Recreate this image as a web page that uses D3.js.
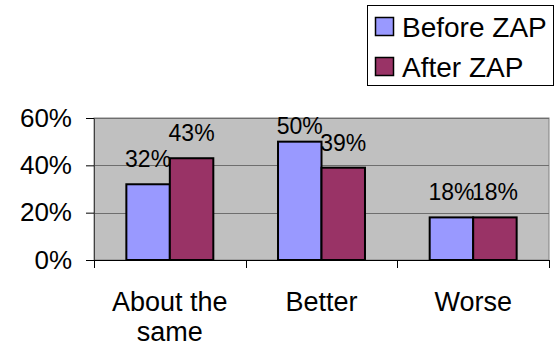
<!DOCTYPE html>
<html>
<head>
<meta charset="utf-8">
<script src="https://cdn.jsdelivr.net/npm/d3@7"></script>
<style>
  html, body { margin: 0; padding: 0; background: #ffffff; }
  svg { display: block; font-family: "Liberation Sans", Arial, sans-serif; }
</style>
</head>
<body>
<svg id="chart" width="557" height="347"></svg>
<script>
// ---- data ----
const categories = ["About the same", "Better", "Worse"];
const categoryLines = [["About the", "same"], ["Better"], ["Worse"]];
const seriesNames = ["Before ZAP", "After ZAP"];
const beforeValues = [0.32, 0.50, 0.18];
const afterValues = [0.43, 0.39, 0.18];
const yTicks = [0, 0.2, 0.4, 0.6];
const seriesColors = ["#9999ff", "#993366"];

const svg = d3.select("#chart");
const plot = { left: 94, right: 549, top: 118, bottom: 260 };

const x0 = d3.scaleBand().domain(categories).range([plot.left, plot.right]).padding(0);
const x1 = d3.scaleBand().domain(seriesNames).range([0, x0.bandwidth()]).paddingInner(0).paddingOuter(0.744);
const y = d3.scaleLinear().domain([0, 0.6]).range([plot.bottom, plot.top]);
const fmt = d3.format(".0%");

// plot area background
svg.append("rect")
  .attr("x", plot.left).attr("y", plot.top)
  .attr("width", plot.right - plot.left).attr("height", plot.bottom - plot.top)
  .attr("fill", "#c0c0c0").attr("stroke", "#808080").attr("stroke-width", 1);

// gridlines
svg.append("g").selectAll("line").data(yTicks.filter(t => t > 0)).join("line")
  .attr("x1", plot.left).attr("x2", plot.right)
  .attr("y1", d => Math.round(y(d)) + 0.5).attr("y2", d => Math.round(y(d)) + 0.5)
  .attr("stroke", "#6e6e6e").attr("stroke-width", 1.2);

// y axis
const yAxis = d3.axisLeft(y).tickValues(yTicks).tickFormat(fmt).tickSize(8).tickPadding(14);
const gy = svg.append("g").attr("transform", `translate(${plot.left},0)`).call(yAxis);
gy.select(".domain").attr("stroke", "#404040").attr("stroke-width", 1);
gy.selectAll(".tick line").attr("stroke", "#000");
gy.selectAll(".tick text").attr("font-size", 26).attr("fill", "#000")
  .attr("font-family", "\"Liberation Sans\", Arial, sans-serif");

// bars
const seriesData = [beforeValues, afterValues];
const groups = svg.append("g").selectAll("g").data(categories).join("g")
  .attr("transform", d => `translate(${x0(d)},0)`);
groups.selectAll("rect")
  .data((c, i) => seriesNames.map((s, k) => ({ s, k, v: seriesData[k][i] })))
  .join("rect")
  .attr("x", d => x1(d.s)).attr("width", x1.bandwidth())
  .attr("y", d => y(d.v)).attr("height", d => y(0) - y(d.v))
  .attr("fill", d => seriesColors[d.k])
  .attr("stroke", "#000").attr("stroke-width", 2);

// data labels
groups.selectAll("text.lbl")
  .data((c, i) => seriesNames.map((s, k) => ({ s, k, v: seriesData[k][i] })))
  .join("text").attr("class", "lbl")
  .attr("x", d => x1(d.s) + x1.bandwidth() / 2)
  .attr("y", d => Math.max(y(d.v) - 17, plot.top + 16))
  .attr("text-anchor", "middle").attr("font-size", 23).attr("fill", "#000")
  .text(d => fmt(d.v));

// x axis
const xAxisLine = svg.append("g");
xAxisLine.append("line")
  .attr("x1", plot.left - 8).attr("x2", plot.right)
  .attr("y1", plot.bottom + 0.5).attr("y2", plot.bottom + 0.5)
  .attr("stroke", "#000").attr("stroke-width", 1);
const boundaries = categories.map(c => x0(c)).concat([x0(categories[categories.length - 1]) + x0.bandwidth()]);
xAxisLine.selectAll("line.tk").data(boundaries).join("line").attr("class", "tk")
  .attr("x1", d => Math.round(d) + 0.5).attr("x2", d => Math.round(d) + 0.5)
  .attr("y1", plot.bottom).attr("y2", plot.bottom + 8)
  .attr("stroke", "#000").attr("stroke-width", 1);

// category labels
svg.append("g").selectAll("text").data(categories).join("text")
  .attr("x", d => x0(d) + x0.bandwidth() / 2)
  .attr("y", 311)
  .attr("text-anchor", "middle").attr("font-size", 27).attr("fill", "#000")
  .each(function (d, i) {
    const t = d3.select(this);
    categoryLines[i].forEach((ln, j) => {
      t.append("tspan").attr("x", x0(d) + x0.bandwidth() / 2).attr("dy", j === 0 ? 0 : 30).text(ln);
    });
  });

// legend
const legend = svg.append("g");
legend.append("rect").attr("x", 367.5).attr("y", 5.5).attr("width", 186).attr("height", 80)
  .attr("fill", "#fff").attr("stroke", "#000").attr("stroke-width", 1);
const li = legend.selectAll("g").data(seriesNames).join("g")
  .attr("transform", (d, i) => `translate(375,${17 + i * 40})`);
li.append("rect").attr("x", 0.5).attr("y", 0.5).attr("width", 18).attr("height", 18)
  .attr("fill", (d, i) => seriesColors[i]).attr("stroke", "#000").attr("stroke-width", 1.5);
li.append("text").attr("x", 27).attr("y", 19.5).attr("font-size", 28).attr("fill", "#000").text(d => d);
</script>
</body>
</html>
